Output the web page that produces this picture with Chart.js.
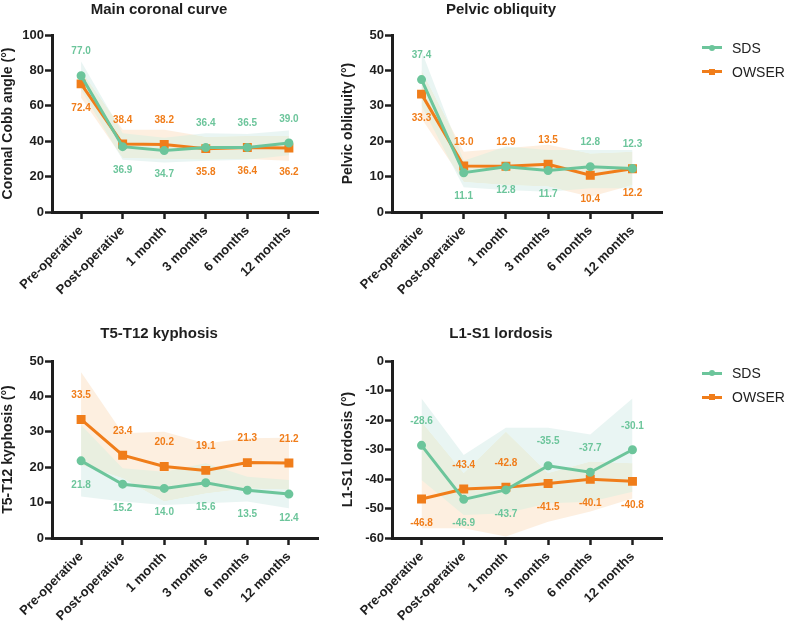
<!DOCTYPE html>
<html>
<head>
<meta charset="utf-8">
<script src="https://cdn.jsdelivr.net/npm/chart.js@4.4.0/dist/chart.umd.min.js"></script>
<style>
  body { margin: 0; background: #fff; font-family: "Liberation Sans", Arial, sans-serif; }
  #wrap { position: relative; width: 787px; height: 623px; }
  canvas { position: absolute; }
  .legend { position: absolute; left: 700px; font-size: 14px; color: #222; }
  .item { position: relative; height: 24px; line-height: 24px; padding-left: 32px; }
  .mark { position: absolute; left: 2px; top: 10.5px; width: 20px; height: 3px; }
  .mark::after { content: ''; position: absolute; left: 50%; top: 50%; transform: translate(-50%, -50%); }
  .sds .mark, .sds .mark::after { background: #6cc59b; }
  .sds .mark::after { width: 6px; height: 6px; border-radius: 50%; }
  .owser .mark, .owser .mark::after { background: #f07d1a; }
  .owser .mark::after { width: 6px; height: 6px; }
</style>
</head>
<body>
<div id="wrap">
  <canvas id="coronal" width="370" height="310" style="left:0;top:0;width:370px;height:310px"></canvas>
  <canvas id="pelvic" width="374" height="310" style="left:340px;top:0;width:374px;height:310px"></canvas>
  <canvas id="kyphosis" width="370" height="313" style="left:0;top:310px;width:370px;height:313px"></canvas>
  <canvas id="lordosis" width="374" height="313" style="left:340px;top:310px;width:374px;height:313px"></canvas>
  <div class="legend" style="top:35.5px">
    <div class="item sds"><span class="mark"></span>SDS</div>
    <div class="item owser"><span class="mark"></span>OWSER</div>
  </div>
  <div class="legend" style="top:361px">
    <div class="item sds"><span class="mark"></span>SDS</div>
    <div class="item owser"><span class="mark"></span>OWSER</div>
  </div>
</div>
<script>
const timepoints = ["Pre-operative", "Post-operative", "1 month", "3 months", "6 months", "12 months"];

// Main coronal curve
const coronalSDS = [77.0, 36.9, 34.7, 36.4, 36.5, 39.0];
const coronalSDSLow = [69, 29.5, 28, 29, 29.5, 32];
const coronalSDSHigh = [85, 44.5, 42, 44.5, 44, 46];
const coronalOWSER = [72.4, 38.4, 38.2, 35.8, 36.4, 36.2];
const coronalOWSERLow = [64.5, 30.5, 30, 29.5, 30, 29];
const coronalOWSERHigh = [80, 46.5, 46.5, 42.5, 43, 43];

// Pelvic obliquity
const pelvicSDS = [37.4, 11.1, 12.8, 11.7, 12.8, 12.3];
const pelvicSDSLow = [30, 7, 6.2, 5.7, 6.7, 6.7];
const pelvicSDSHigh = [45.5, 14.5, 18.5, 17.5, 17.5, 17.5];
const pelvicOWSER = [33.3, 13.0, 12.9, 13.5, 10.4, 12.2];
const pelvicOWSERLow = [26.5, 8.5, 7.6, 7.2, 4.3, 7.6];
const pelvicOWSERHigh = [40, 17, 18, 19, 16.5, 17];

// T5-T12 kyphosis
const kyphosisSDS = [21.8, 15.2, 14.0, 15.6, 13.5, 12.4];
const kyphosisSDSLow = [11.7, 10.3, 9.3, 9.8, 10.3, 8.4];
const kyphosisSDSHigh = [31.9, 19.7, 18.7, 21.1, 17.3, 16.4];
const kyphosisOWSER = [33.5, 23.4, 20.2, 19.1, 21.3, 21.2];
const kyphosisOWSERLow = [20.6, 16.9, 10.3, 12.6, 14.0, 13.6];
const kyphosisOWSERHigh = [46.8, 29.6, 30.0, 26.7, 28.2, 28.3];

// L1-S1 lordosis
const lordosisSDS = [-28.6, -46.9, -43.7, -35.5, -37.7, -30.1];
const lordosisSDSLow = [-40.3, -52.2, -51.6, -48.2, -47.7, -44.3];
const lordosisSDSHigh = [-12.7, -31.9, -22.6, -22.6, -24.9, -12.7];
const lordosisOWSER = [-46.8, -43.4, -42.8, -41.5, -40.1, -40.8];
const lordosisOWSERLow = [-56.7, -56.7, -59.5, -54.5, -51, -46.6];
const lordosisOWSERHigh = [-20.6, -38, -24, -38, -34.1, -34.7];

const sdsColor = "#6cc59b";
const owserColor = "#f07d1a";
const sdsBand = "rgb(233, 245, 243)";
const owserBand = "rgb(253, 239, 224)";
const axisColor = "#1e1e1e";

Chart.defaults.font.family = '"Liberation Sans", Arial, sans-serif';

function pts(arr) {
  return arr.map((v, i) => ({ x: i, y: v }));
}

// white background + "darken" blend so overlapping bands mix like the original
const bandBlend = {
  id: "bandBlend",
  beforeDraw(chart) {
    const ctx = chart.ctx;
    ctx.save();
    ctx.fillStyle = "#fff";
    ctx.fillRect(0, 0, chart.width, chart.height);
    ctx.restore();
    ctx.globalCompositeOperation = "darken";
  },
  beforeDatasetsDraw(chart) {
    chart.ctx.globalCompositeOperation = "source-over";
  }
};

// value labels above the higher point, below the lower one
const pointLabels = {
  id: "pointLabels",
  afterDatasetsDraw(chart) {
    const ctx = chart.ctx;
    const ma = chart.getDatasetMeta(0), mb = chart.getDatasetMeta(1);
    const da = chart.data.datasets[0].data, db = chart.data.datasets[1].data;
    ctx.save();
    ctx.font = 'bold 10px "Liberation Sans", Arial, sans-serif';
    ctx.textAlign = "center";
    ctx.textBaseline = "middle";
    ma.data.forEach((pa, i) => {
      const pb = mb.data[i];
      const aUp = da[i].y >= db[i].y;
      ctx.fillStyle = sdsColor;
      ctx.fillText(da[i].y.toFixed(1), pa.x, pa.y + (aUp ? -24 : 24));
      ctx.fillStyle = owserColor;
      ctx.fillText(db[i].y.toFixed(1), pb.x, pb.y + (aUp ? 24 : -24));
    });
    ctx.restore();
  }
};

function makePanel(id, title, yTitle, yMin, yMax, yStep, s, sLo, sHi, o, oLo, oHi, top) {
  const ctx = document.getElementById(id).getContext("2d");
  const band = (data, color, fill) => ({
    data: pts(data),
    borderColor: "rgba(0,0,0,0)",
    backgroundColor: color,
    pointRadius: 0,
    fill: fill
  });
  new Chart(ctx, {
    type: "line",
    data: {
      datasets: [
        { label: "SDS", data: pts(s), borderColor: sdsColor, backgroundColor: sdsColor,
          borderWidth: 3, pointRadius: 3, pointStyle: "circle", fill: false },
        { label: "OWSER", data: pts(o), borderColor: owserColor, backgroundColor: owserColor,
          borderWidth: 3, pointRadius: 4.2, pointStyle: "rect", fill: false },
        band(sLo, sdsBand, false),
        band(sHi, sdsBand, "-1"),
        band(oLo, owserBand, false),
        band(oHi, owserBand, "-1")
      ]
    },
    options: {
      responsive: false,
      animation: false,
      layout: { padding: { left: 0, right: 52, top: 0, bottom: 0 } },
      plugins: {
        legend: { display: false },
        tooltip: { enabled: false },
        filler: { drawTime: "beforeDatasetsDraw" },
        title: {
          display: true,
          text: title,
          color: axisColor,
          font: { size: 15, weight: "bold" },
          padding: top ? { top: 1, bottom: 16 } : { top: 15, bottom: 18 }
        }
      },
      scales: {
        x: {
          type: "linear",
          min: -0.7,
          max: 5.7,
          afterBuildTicks: sc => { sc.ticks = timepoints.map((_, i) => ({ value: i })); },
          afterFit: sc => { sc.height = top ? 98 : 85; },
          ticks: {
            autoSkip: false,
            minRotation: 45,
            maxRotation: 45,
            padding: 4,
            color: axisColor,
            font: { size: 13, weight: "bold" },
            callback: v => timepoints[v]
          },
          grid: { drawOnChartArea: false, drawTicks: true, tickLength: 7, tickWidth: 2.5, tickColor: axisColor },
          border: { display: true, width: 3, color: axisColor }
        },
        y: {
          min: yMin,
          max: yMax,
          afterFit: sc => { sc.width = 52; },
          ticks: {
            stepSize: yStep,
            padding: 1,
            color: axisColor,
            font: { size: 13, weight: "bold" }
          },
          grid: { drawOnChartArea: false, drawTicks: true, tickLength: 7, tickWidth: 2.5, tickColor: axisColor },
          border: { display: true, width: 3, color: axisColor },
          title: {
            display: true,
            text: yTitle,
            color: axisColor,
            font: { size: 14, weight: "bold" },
            padding: { top: 0, bottom: 0 }
          }
        }
      }
    },
    plugins: [bandBlend, pointLabels]
  });
}

makePanel("coronal", "Main coronal curve", "Coronal Cobb angle (°)", 0, 100, 20,
  coronalSDS, coronalSDSLow, coronalSDSHigh, coronalOWSER, coronalOWSERLow, coronalOWSERHigh, true);
makePanel("pelvic", "Pelvic obliquity", "Pelvic obliquity (°)", 0, 50, 10,
  pelvicSDS, pelvicSDSLow, pelvicSDSHigh, pelvicOWSER, pelvicOWSERLow, pelvicOWSERHigh, true);
makePanel("kyphosis", "T5-T12 kyphosis", "T5-T12 kyphosis (°)", 0, 50, 10,
  kyphosisSDS, kyphosisSDSLow, kyphosisSDSHigh, kyphosisOWSER, kyphosisOWSERLow, kyphosisOWSERHigh, false);
makePanel("lordosis", "L1-S1 lordosis", "L1-S1 lordosis (°)", -60, 0, 10,
  lordosisSDS, lordosisSDSLow, lordosisSDSHigh, lordosisOWSER, lordosisOWSERLow, lordosisOWSERHigh, false);
</script>
</body>
</html>
